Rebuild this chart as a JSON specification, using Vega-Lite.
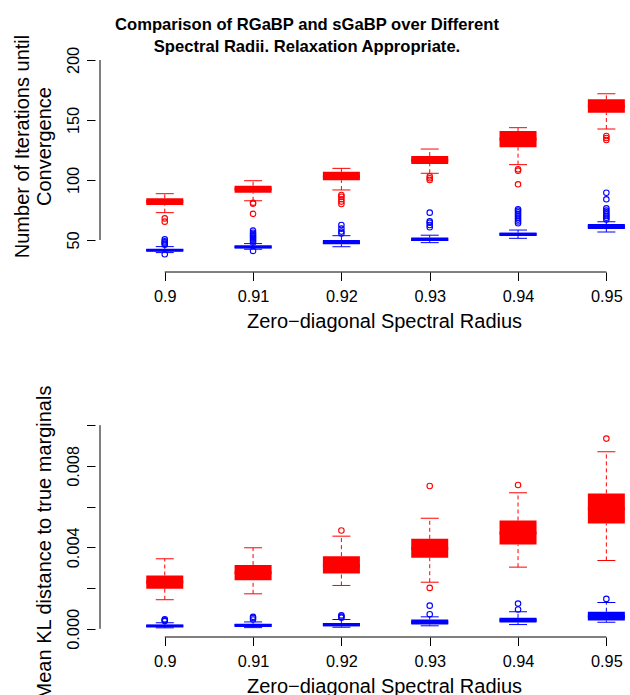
{
  "$schema": "https://vega.github.io/schema/vega-lite/v6.json",
  "autosize": {"type": "none"},
  "width": 535,
  "height": 585,
  "padding": {"left": 95, "top": 52, "right": 0, "bottom": 58},
  "background": "white",
  "config": {
    "font": "Liberation Sans",
    "view": {"stroke": null},
    "axis": {
      "grid": false, "domain": false,
      "labelFont": "Liberation Sans", "titleFont": "Liberation Sans",
      "labelColor": "black", "titleColor": "black", "tickColor": "black",
      "labelFontSize": 16.3, "titleFontSize": 20, "titleFontWeight": "normal",
      "tickSize": 8.5, "tickWidth": 1, "labelOverlap": false, "labelFlush": false
    }
  },
  "title": {
    "text": ["Comparison of RGaBP and sGaBP over Different", "Spectral Radii. Relaxation Appropriate."],
    "font": "Liberation Sans", "fontSize": 16.6, "fontWeight": "bold", "color": "black",
    "anchor": "middle", "frame": "group", "dx": -55.5, "dy": 41, "lineHeight": 22,
    "baseline": "alphabetic", "offset": 6.5
  },
  "datasets": {
    "itS": [
      {"r": 0.90, "m": "RGaBP", "lo": 72.8, "q1": 79.2, "med": 82, "q3": 84.7, "hi": 88.6},
      {"r": 0.91, "m": "RGaBP", "lo": 82.7, "q1": 89.4, "med": 92.5, "q3": 95.2, "hi": 99.4},
      {"r": 0.92, "m": "RGaBP", "lo": 91.7, "q1": 99.8, "med": 103, "q3": 106.8, "hi": 109.7},
      {"r": 0.93, "m": "RGaBP", "lo": 105.6, "q1": 113.3, "med": 116.5, "q3": 120, "hi": 125.8},
      {"r": 0.94, "m": "RGaBP", "lo": 112.8, "q1": 127.2, "med": 134, "q3": 140.8, "hi": 143.6},
      {"r": 0.95, "m": "RGaBP", "lo": 142.5, "q1": 156.1, "med": 161.5, "q3": 167.2, "hi": 171.9},
      {"r": 0.90, "m": "sGaBP", "lo": 39.5, "q1": 40.6, "med": 41.5, "q3": 42.5, "hi": 44.5},
      {"r": 0.91, "m": "sGaBP", "lo": 42.3, "q1": 43.2, "med": 44.2, "q3": 45.4, "hi": 47},
      {"r": 0.92, "m": "sGaBP", "lo": 44.4, "q1": 46.5, "med": 48, "q3": 50, "hi": 53.6},
      {"r": 0.93, "m": "sGaBP", "lo": 47.8, "q1": 49.2, "med": 50.5, "q3": 52, "hi": 54},
      {"r": 0.94, "m": "sGaBP", "lo": 51.4, "q1": 53.3, "med": 54.7, "q3": 56.1, "hi": 58.3},
      {"r": 0.95, "m": "sGaBP", "lo": 56.7, "q1": 59.2, "med": 61, "q3": 63.3, "hi": 65.3}
    ],
    "itO": [
      {"r": 0.90, "m": "RGaBP", "v": 68}, {"r": 0.90, "m": "RGaBP", "v": 65.3},
      {"r": 0.91, "m": "RGaBP", "v": 81.1}, {"r": 0.91, "m": "RGaBP", "v": 80.3}, {"r": 0.91, "m": "RGaBP", "v": 71.8},
      {"r": 0.92, "m": "RGaBP", "v": 87.5}, {"r": 0.92, "m": "RGaBP", "v": 86}, {"r": 0.92, "m": "RGaBP", "v": 84}, {"r": 0.92, "m": "RGaBP", "v": 82}, {"r": 0.92, "m": "RGaBP", "v": 80},
      {"r": 0.93, "m": "RGaBP", "v": 103}, {"r": 0.93, "m": "RGaBP", "v": 101.5}, {"r": 0.93, "m": "RGaBP", "v": 100},
      {"r": 0.94, "m": "RGaBP", "v": 109}, {"r": 0.94, "m": "RGaBP", "v": 107.8}, {"r": 0.94, "m": "RGaBP", "v": 96.4},
      {"r": 0.95, "m": "RGaBP", "v": 136.7}, {"r": 0.95, "m": "RGaBP", "v": 135}, {"r": 0.95, "m": "RGaBP", "v": 133.3},
      {"r": 0.90, "m": "sGaBP", "v": 46}, {"r": 0.90, "m": "sGaBP", "v": 47}, {"r": 0.90, "m": "sGaBP", "v": 48}, {"r": 0.90, "m": "sGaBP", "v": 49}, {"r": 0.90, "m": "sGaBP", "v": 50.5}, {"r": 0.90, "m": "sGaBP", "v": 38.1},
      {"r": 0.91, "m": "sGaBP", "v": 48}, {"r": 0.91, "m": "sGaBP", "v": 49}, {"r": 0.91, "m": "sGaBP", "v": 50}, {"r": 0.91, "m": "sGaBP", "v": 51}, {"r": 0.91, "m": "sGaBP", "v": 52}, {"r": 0.91, "m": "sGaBP", "v": 53}, {"r": 0.91, "m": "sGaBP", "v": 54}, {"r": 0.91, "m": "sGaBP", "v": 55}, {"r": 0.91, "m": "sGaBP", "v": 56}, {"r": 0.91, "m": "sGaBP", "v": 57.8}, {"r": 0.91, "m": "sGaBP", "v": 40.9},
      {"r": 0.92, "m": "sGaBP", "v": 55.5}, {"r": 0.92, "m": "sGaBP", "v": 57}, {"r": 0.92, "m": "sGaBP", "v": 59.5}, {"r": 0.92, "m": "sGaBP", "v": 62.5},
      {"r": 0.93, "m": "sGaBP", "v": 60.6}, {"r": 0.93, "m": "sGaBP", "v": 62.5}, {"r": 0.93, "m": "sGaBP", "v": 64.4}, {"r": 0.93, "m": "sGaBP", "v": 65.5}, {"r": 0.93, "m": "sGaBP", "v": 72.8},
      {"r": 0.94, "m": "sGaBP", "v": 64}, {"r": 0.94, "m": "sGaBP", "v": 65.5}, {"r": 0.94, "m": "sGaBP", "v": 67}, {"r": 0.94, "m": "sGaBP", "v": 68.5}, {"r": 0.94, "m": "sGaBP", "v": 70}, {"r": 0.94, "m": "sGaBP", "v": 71.5}, {"r": 0.94, "m": "sGaBP", "v": 73}, {"r": 0.94, "m": "sGaBP", "v": 74.5}, {"r": 0.94, "m": "sGaBP", "v": 75.6},
      {"r": 0.95, "m": "sGaBP", "v": 67}, {"r": 0.95, "m": "sGaBP", "v": 68.5}, {"r": 0.95, "m": "sGaBP", "v": 70}, {"r": 0.95, "m": "sGaBP", "v": 71.5}, {"r": 0.95, "m": "sGaBP", "v": 73}, {"r": 0.95, "m": "sGaBP", "v": 74.5}, {"r": 0.95, "m": "sGaBP", "v": 76.4}, {"r": 0.95, "m": "sGaBP", "v": 83.9}, {"r": 0.95, "m": "sGaBP", "v": 89.4}
    ],
    "klS": [
      {"r": 0.90, "m": "RGaBP", "lo": 0.00143, "q1": 0.00197, "med": 0.0023, "q3": 0.00262, "hi": 0.00344},
      {"r": 0.91, "m": "RGaBP", "lo": 0.00172, "q1": 0.00239, "med": 0.00275, "q3": 0.00313, "hi": 0.00398},
      {"r": 0.92, "m": "RGaBP", "lo": 0.00213, "q1": 0.00272, "med": 0.0031, "q3": 0.00357, "hi": 0.00455},
      {"r": 0.93, "m": "RGaBP", "lo": 0.00229, "q1": 0.00349, "med": 0.00395, "q3": 0.00442, "hi": 0.00543},
      {"r": 0.94, "m": "RGaBP", "lo": 0.00303, "q1": 0.00414, "med": 0.0047, "q3": 0.00532, "hi": 0.00668},
      {"r": 0.95, "m": "RGaBP", "lo": 0.00336, "q1": 0.00517, "med": 0.0059, "q3": 0.00665, "hi": 0.0087},
      {"r": 0.90, "m": "sGaBP", "lo": 0.00005, "q1": 0.00009, "med": 0.00014, "q3": 0.0002, "hi": 0.0003},
      {"r": 0.91, "m": "sGaBP", "lo": 0.00006, "q1": 0.00011, "med": 0.00017, "q3": 0.00025, "hi": 0.00034},
      {"r": 0.92, "m": "sGaBP", "lo": 0.00008, "q1": 0.00013, "med": 0.0002, "q3": 0.00029, "hi": 0.00046},
      {"r": 0.93, "m": "sGaBP", "lo": 0.00015, "q1": 0.00021, "med": 0.00032, "q3": 0.00046, "hi": 0.00059},
      {"r": 0.94, "m": "sGaBP", "lo": 0.00021, "q1": 0.00031, "med": 0.00042, "q3": 0.00054, "hi": 0.00084},
      {"r": 0.95, "m": "sGaBP", "lo": 0.00033, "q1": 0.00041, "med": 0.0006, "q3": 0.00084, "hi": 0.00129}
    ],
    "klO": [
      {"r": 0.92, "m": "RGaBP", "v": 0.00483},
      {"r": 0.93, "m": "RGaBP", "v": 0.00701}, {"r": 0.93, "m": "RGaBP", "v": 0.00201},
      {"r": 0.94, "m": "RGaBP", "v": 0.00706},
      {"r": 0.95, "m": "RGaBP", "v": 0.00934},
      {"r": 0.90, "m": "sGaBP", "v": 0.00038}, {"r": 0.90, "m": "sGaBP", "v": 0.00042}, {"r": 0.90, "m": "sGaBP", "v": 0.00047},
      {"r": 0.91, "m": "sGaBP", "v": 0.00046}, {"r": 0.91, "m": "sGaBP", "v": 0.00053}, {"r": 0.91, "m": "sGaBP", "v": 0.00059},
      {"r": 0.92, "m": "sGaBP", "v": 0.00055}, {"r": 0.92, "m": "sGaBP", "v": 0.0006}, {"r": 0.92, "m": "sGaBP", "v": 0.00066},
      {"r": 0.93, "m": "sGaBP", "v": 0.00072}, {"r": 0.93, "m": "sGaBP", "v": 0.00114},
      {"r": 0.94, "m": "sGaBP", "v": 0.00095}, {"r": 0.94, "m": "sGaBP", "v": 0.00124},
      {"r": 0.95, "m": "sGaBP", "v": 0.00147}
    ]
  },
  "resolve": {"scale": {"x": "independent", "y": "independent"}},
  "layer": [
    {
      "layer": [
        {
          "data": {"name": "itS"},
          "mark": {"type": "bar", "size": 37, "opacity": 1},
          "encoding": {
            "x": {"field": "r", "type": "quantitative",
                  "scale": {"domain": [0.892667, 0.952111], "nice": false, "zero": false},
                  "axis": {"orient": "bottom", "offset": -365, "values": [0.9, 0.91, 0.92, 0.93, 0.94, 0.95],
                           "labelExpr": "format(datum.value, '.2~f')", "labelBaseline": "alphabetic", "labelPadding": 20.5,
                           "title": "Zero\u2212diagonal Spectral Radius", "titleX": 289, "titleY": 55,
                           "titleAlign": "center", "titleBaseline": "alphabetic"}},
            "y": {"field": "q1", "type": "quantitative",
                  "scale": {"domain": [-280.833, 206.667], "nice": false, "zero": false},
                  "axis": {"orient": "left", "values": [50, 100, 150, 200], "format": "d",
                           "labelAngle": -90, "labelAlign": "center", "labelBaseline": "alphabetic", "labelPadding": 8.5,
                           "title": ["Number of Iterations until", "Convergence"], "titleAngle": -90,
                           "titleX": -66.5, "titleY": 94, "titleAlign": "center", "titleBaseline": "alphabetic",
                           "titleLineHeight": 22}},
            "y2": {"field": "q3"},
            "color": {"field": "m", "type": "nominal", "scale": {"domain": ["RGaBP", "sGaBP"], "range": ["#ff0000", "#0000ff"]}, "legend": null}
          }
        },
        {
          "data": {"name": "itS"},
          "mark": {"type": "tick", "orient": "horizontal", "size": 37, "thickness": 3, "opacity": 1},
          "encoding": {
            "x": {"field": "r", "type": "quantitative"},
            "y": {"field": "med", "type": "quantitative"},
            "color": {"field": "m", "type": "nominal", "legend": null}
          }
        },
        {
          "data": {"name": "itS"},
          "mark": {"type": "rule", "strokeDash": [4, 3], "strokeWidth": 1, "opacity": 1},
          "encoding": {
            "x": {"field": "r", "type": "quantitative"},
            "y": {"field": "q3", "type": "quantitative"},
            "y2": {"field": "hi"},
            "color": {"field": "m", "type": "nominal", "legend": null}
          }
        },
        {
          "data": {"name": "itS"},
          "mark": {"type": "rule", "strokeDash": [4, 3], "strokeWidth": 1, "opacity": 1},
          "encoding": {
            "x": {"field": "r", "type": "quantitative"},
            "y": {"field": "lo", "type": "quantitative"},
            "y2": {"field": "q1"},
            "color": {"field": "m", "type": "nominal", "legend": null}
          }
        },
        {
          "data": {"name": "itS"},
          "mark": {"type": "tick", "orient": "horizontal", "size": 18, "thickness": 1, "opacity": 1},
          "encoding": {
            "x": {"field": "r", "type": "quantitative"},
            "y": {"field": "hi", "type": "quantitative"},
            "color": {"field": "m", "type": "nominal", "legend": null}
          }
        },
        {
          "data": {"name": "itS"},
          "mark": {"type": "tick", "orient": "horizontal", "size": 18, "thickness": 1, "opacity": 1},
          "encoding": {
            "x": {"field": "r", "type": "quantitative"},
            "y": {"field": "lo", "type": "quantitative"},
            "color": {"field": "m", "type": "nominal", "legend": null}
          }
        },
        {
          "data": {"name": "itO"},
          "mark": {"type": "point", "shape": "circle", "filled": false, "size": 30, "strokeWidth": 1.1, "opacity": 1},
          "encoding": {
            "x": {"field": "r", "type": "quantitative"},
            "y": {"field": "v", "type": "quantitative"},
            "color": {"field": "m", "type": "nominal", "legend": null}
          }
        },
        {
          "data": {"values": [{}]},
          "mark": {"type": "rule", "color": "black", "strokeWidth": 1},
          "encoding": {
            "x": {"datum": 0.892667, "type": "quantitative"},
            "y": {"datum": 50, "type": "quantitative"},
            "y2": {"datum": 200}
          }
        },
        {
          "data": {"values": [{}]},
          "mark": {"type": "rule", "color": "black", "strokeWidth": 1},
          "encoding": {
            "x": {"datum": 0.9, "type": "quantitative"},
            "x2": {"datum": 0.95},
            "y": {"datum": 23.333, "type": "quantitative"}
          }
        }
      ]
    },
    {
      "layer": [
        {
          "data": {"name": "klS"},
          "mark": {"type": "bar", "size": 37, "opacity": 1},
          "encoding": {
            "x": {"field": "r", "type": "quantitative",
                  "scale": {"domain": [0.892667, 0.952111], "nice": false, "zero": false},
                  "axis": {"orient": "bottom", "offset": 0, "values": [0.9, 0.91, 0.92, 0.93, 0.94, 0.95],
                           "labelExpr": "format(datum.value, '.2~f')", "labelBaseline": "alphabetic", "labelPadding": 20.5,
                           "title": "Zero\u2212diagonal Spectral Radius", "titleX": 289, "titleY": 55,
                           "titleAlign": "center", "titleBaseline": "alphabetic"}},
            "y": {"field": "q1", "type": "quantitative",
                  "scale": {"domain": [-0.0004, 0.028318], "nice": false, "zero": false},
                  "axis": {"orient": "left", "values": [0, 0.002, 0.004, 0.006, 0.008, 0.01],
                           "labelExpr": "(abs(datum.value - 0.002) < 1e-9 || abs(datum.value - 0.006) < 1e-9 || abs(datum.value - 0.01) < 1e-9) ? '' : format(datum.value, '.3f')",
                           "labelAngle": -90, "labelAlign": "center", "labelBaseline": "alphabetic", "labelPadding": 8.5,
                           "title": "Mean KL distance to true marginals", "titleAngle": -90,
                           "titleX": -45, "titleY": 490, "titleAlign": "center", "titleBaseline": "alphabetic"}},
            "y2": {"field": "q3"},
            "color": {"field": "m", "type": "nominal", "legend": null}
          }
        },
        {
          "data": {"name": "klS"},
          "mark": {"type": "tick", "orient": "horizontal", "size": 37, "thickness": 3, "opacity": 1},
          "encoding": {
            "x": {"field": "r", "type": "quantitative"},
            "y": {"field": "med", "type": "quantitative"},
            "color": {"field": "m", "type": "nominal", "legend": null}
          }
        },
        {
          "data": {"name": "klS"},
          "mark": {"type": "rule", "strokeDash": [4, 3], "strokeWidth": 1, "opacity": 1},
          "encoding": {
            "x": {"field": "r", "type": "quantitative"},
            "y": {"field": "q3", "type": "quantitative"},
            "y2": {"field": "hi"},
            "color": {"field": "m", "type": "nominal", "legend": null}
          }
        },
        {
          "data": {"name": "klS"},
          "mark": {"type": "rule", "strokeDash": [4, 3], "strokeWidth": 1, "opacity": 1},
          "encoding": {
            "x": {"field": "r", "type": "quantitative"},
            "y": {"field": "lo", "type": "quantitative"},
            "y2": {"field": "q1"},
            "color": {"field": "m", "type": "nominal", "legend": null}
          }
        },
        {
          "data": {"name": "klS"},
          "mark": {"type": "tick", "orient": "horizontal", "size": 18, "thickness": 1, "opacity": 1},
          "encoding": {
            "x": {"field": "r", "type": "quantitative"},
            "y": {"field": "hi", "type": "quantitative"},
            "color": {"field": "m", "type": "nominal", "legend": null}
          }
        },
        {
          "data": {"name": "klS"},
          "mark": {"type": "tick", "orient": "horizontal", "size": 18, "thickness": 1, "opacity": 1},
          "encoding": {
            "x": {"field": "r", "type": "quantitative"},
            "y": {"field": "lo", "type": "quantitative"},
            "color": {"field": "m", "type": "nominal", "legend": null}
          }
        },
        {
          "data": {"name": "klO"},
          "mark": {"type": "point", "shape": "circle", "filled": false, "size": 30, "strokeWidth": 1.1, "opacity": 1},
          "encoding": {
            "x": {"field": "r", "type": "quantitative"},
            "y": {"field": "v", "type": "quantitative"},
            "color": {"field": "m", "type": "nominal", "legend": null}
          }
        },
        {
          "data": {"values": [{}]},
          "mark": {"type": "rule", "color": "black", "strokeWidth": 1},
          "encoding": {
            "x": {"datum": 0.892667, "type": "quantitative"},
            "y": {"datum": 0, "type": "quantitative"},
            "y2": {"datum": 0.01}
          }
        },
        {
          "data": {"values": [{}]},
          "mark": {"type": "rule", "color": "black", "strokeWidth": 1},
          "encoding": {
            "x": {"datum": 0.9, "type": "quantitative"},
            "x2": {"datum": 0.95},
            "y": {"datum": -0.0004, "type": "quantitative"}
          }
        }
      ]
    }
  ]
}
